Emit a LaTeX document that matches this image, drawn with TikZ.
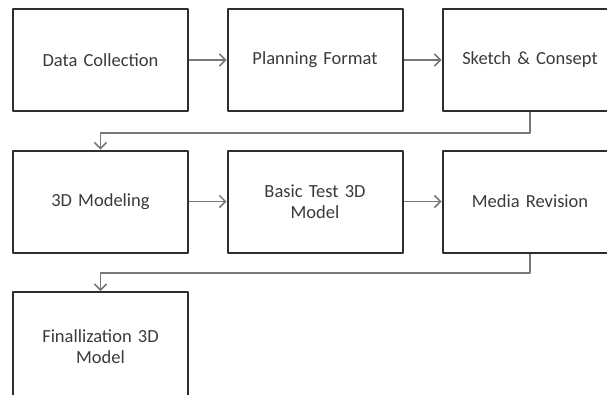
\documentclass[tikz,border=0pt]{standalone}
\usepackage{fontspec}
\setmainfont{Carlito}
\usepackage{xcolor}
\usetikzlibrary{arrows.meta}
\definecolor{boxline}{HTML}{2E2E2E}
\definecolor{flowline}{HTML}{777777}
\definecolor{labeltext}{HTML}{3A3A3A}

\begin{document}
\begin{tikzpicture}[x=1pt,y=-1pt,>={Straight Barb[length=6pt,width=12pt]},line join=round,
  stage/.style={draw=boxline,line width=2pt,minimum width=175pt,minimum height=102pt,
    text width=160pt,align=center,inner sep=0pt,text=labeltext,font=\fontsize{18.5}{21}\selectfont},
  flow/.style={->,draw=flowline,line width=1.5pt}]
  \useasboundingbox (0,0) rectangle (607,394);
  \clip (0,0) rectangle (607,394);
  \node[stage] (collect) at (100.5,60) {Data Collection};
  \node[stage] (planning) at (315,60) {Planning Format};
  \node[stage] (sketch) at (530,60) {Sketch \& Consept};
  \node[stage] (modeling) at (100.5,201.5) {3D Modeling};
  \node[stage] (basictest) at (315,201.5) {Basic Test 3D\\Model};
  \node[stage] (revision) at (530,201.5) {Media Revision};
  \node[stage,minimum height=110pt] (final) at (100.5,347) {Finallization 3D\\Model};
  \coordinate (turnA) at (530,133);
  \coordinate (turnB) at (530,273);
  \draw[flow] (collect) -- (planning);
  \draw[flow] (planning) -- (sketch);
  \draw[flow] (sketch) -- (turnA) -| (modeling);
  \draw[flow] (modeling) -- (basictest);
  \draw[flow] (basictest) -- (revision);
  \draw[flow] (revision) -- (turnB) -| (final);
\end{tikzpicture}
\end{document}
